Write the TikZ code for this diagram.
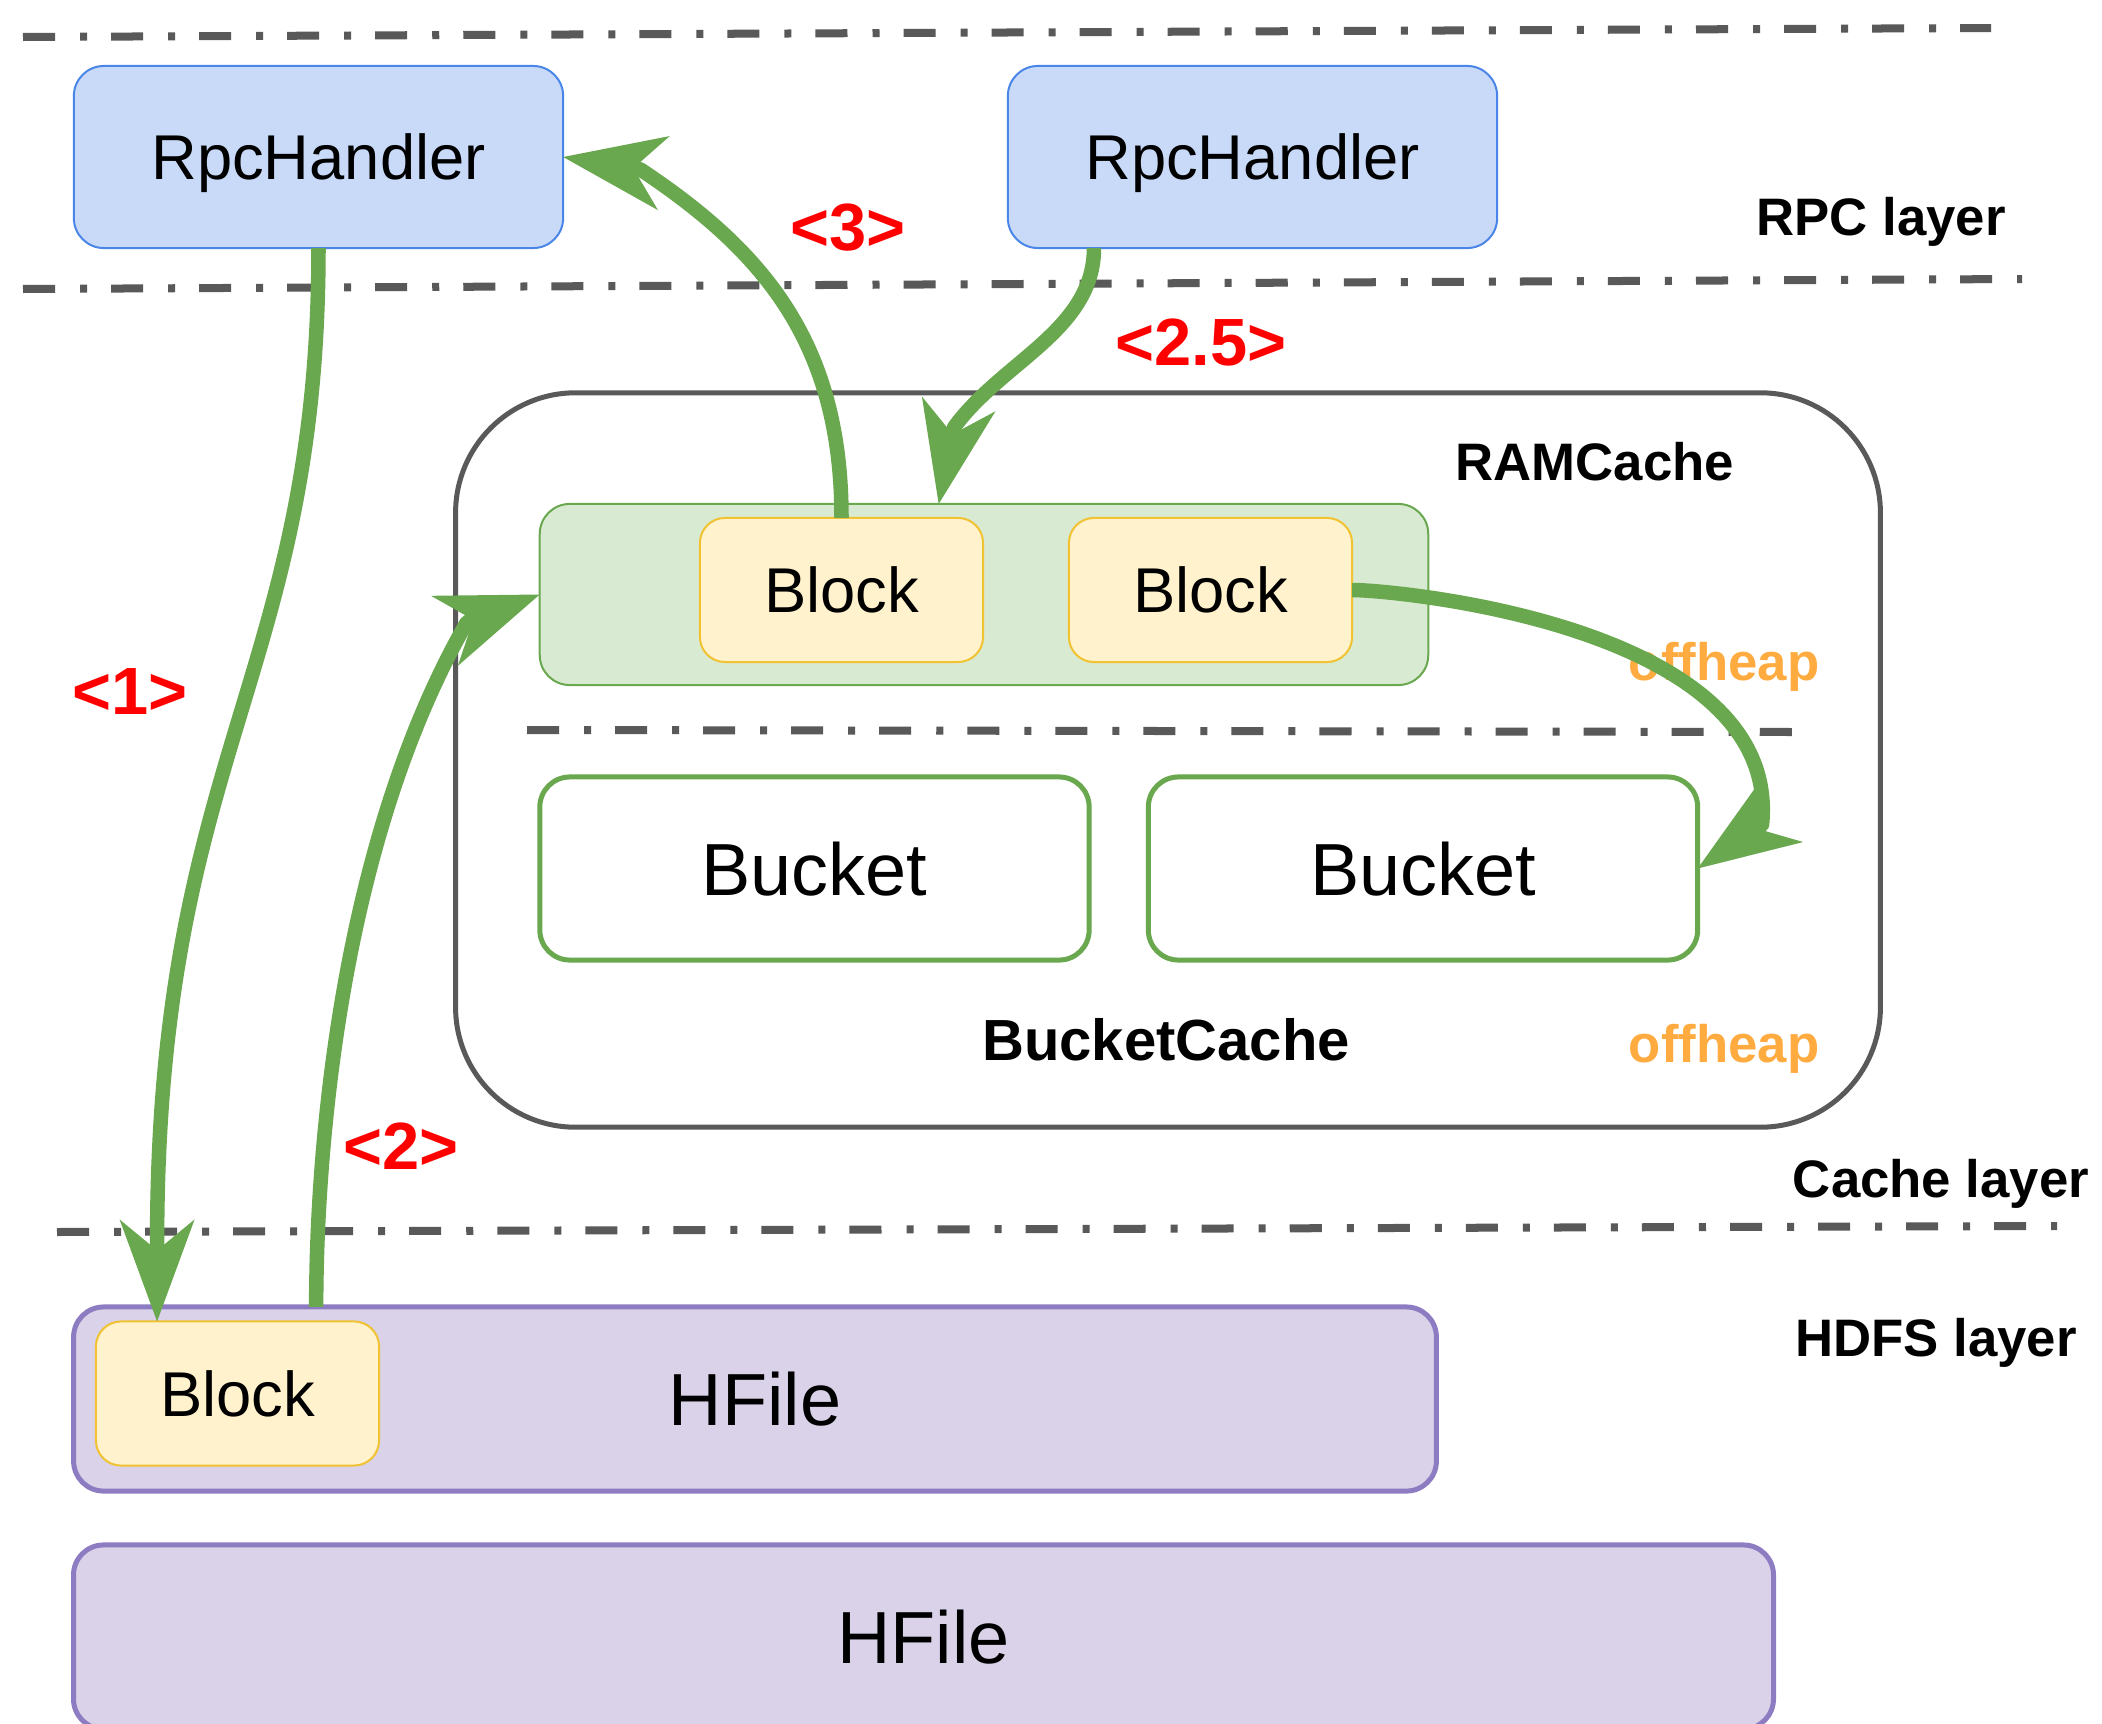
\documentclass[tikz,border=0pt]{standalone}
\usepackage{fontspec}
\setmainfont{Liberation Sans}
\usetikzlibrary{arrows.meta,calc}

\definecolor{rpcfill}{RGB}{201,218,248}
\definecolor{rpcline}{RGB}{74,134,232}
\definecolor{ramfill}{RGB}{217,234,211}
\definecolor{flowgreen}{RGB}{106,168,79}
\definecolor{blockfill}{RGB}{255,242,204}
\definecolor{blockline}{RGB}{241,194,50}
\definecolor{filefill}{RGB}{217,210,233}
\definecolor{fileline}{RGB}{142,124,195}
\definecolor{sepgray}{RGB}{89,89,89}
\definecolor{heaporange}{RGB}{255,171,64}
\definecolor{stepred}{RGB}{255,0,0}

\begin{document}
\begin{tikzpicture}[x=0.01cm, y=-0.01cm,
  box/.style={rectangle, inner sep=0pt, outer sep=0pt, rounded corners=0.3cm,
    text height=13pt, text depth=0pt, font=\fontsize{18pt}{20pt}\selectfont},
  bigbox/.style={box, text height=15.1pt, font=\fontsize{21pt}{24pt}\selectfont},
  rpc/.style={box, fill=rpcfill, draw=rpcline, line width=0.02cm,
    minimum width=4.89cm, minimum height=1.82cm},
  blockbox/.style={box, fill=blockfill, draw=blockline, line width=0.02cm,
    rounded corners=0.25cm, minimum width=2.83cm, minimum height=1.44cm},
  bucketbox/.style={bigbox, fill=white, draw=flowgreen, line width=0.05cm,
    minimum width=5.49cm, minimum height=1.83cm},
  filebox/.style={bigbox, fill=filefill, draw=fileline, line width=0.05cm,
    minimum height=1.84cm},
  layerlabel/.style={anchor=base, inner sep=0pt,
    font=\bfseries\fontsize{15pt}{18pt}\selectfont},
  heaplabel/.style={layerlabel, text=heaporange},
  steplabel/.style={anchor=base, inner sep=0pt, text=stepred,
    font=\bfseries\fontsize{19pt}{22pt}\selectfont},
  sep/.style={draw=sepgray, line width=0.08cm,
    dash pattern=on 0.32cm off 0.25cm on 0.07cm off 0.24cm},
  flow/.style={draw=flowgreen, line width=0.145cm, line join=round,
    -{Stealth[length=1.02cm, width=0.75cm, inset=0.31cm, line width=0pt]}}
]
\path[use as bounding box, fill=white] (0,0) rectangle (2102,1724);
\clip (0,0) rectangle (2102,1724);

% layer separators
\draw[sep] (23,37) -- (1991,28);
\draw[sep] (23,289) -- (2022,279);
\draw[sep] (57,1232) -- (2057,1226);

% RPC layer
\node[rpc] (h1) at (318.5,157) {RpcHandler};
\node[rpc] (h2) at (1252.5,157) {RpcHandler};
\node[layerlabel] (lrpc) at (1881,235) {RPC layer};

% cache layer
\node[box, fill=white, draw=sepgray, line width=0.05cm, rounded corners=1.2cm,
  minimum width=14.24cm, minimum height=7.34cm] (cache) at (1168,760) {};
\node[box, fill=ramfill, draw=flowgreen, line width=0.02cm,
  minimum width=8.88cm, minimum height=1.81cm] (ram) at (984,594.5) {};
\node[blockbox] (b1) at (841.5,590) {Block};
\node[blockbox] (b2) at (1210.5,590) {Block};
\node[layerlabel] (lram) at (1595,480) {RAMCache};
\node[heaplabel] (heap1) at (1724,680) {offheap};
\draw[sep] (527,730) -- (1792,732);
\node[bucketbox] (k1) at (814.5,868.5) {Bucket};
\node[bucketbox] (k2) at (1423,868.5) {Bucket};
\node[layerlabel, font=\bfseries\fontsize{16.5pt}{19pt}\selectfont] (lbucket) at (1166,1060) {BucketCache};
\node[heaplabel] (heap2) at (1724,1062) {offheap};
\node[layerlabel] (lcache) at (1941,1197) {Cache layer};

% HDFS layer
\node[filebox, minimum width=13.62cm] (hf1) at (755,1399) {HFile};
\node[blockbox] (b3) at (237.5,1393.5) {Block};
\node[filebox, minimum width=16.99cm] (hf2) at (923.5,1637) {HFile};
\node[layerlabel] (lhdfs) at (1936,1356) {HDFS layer};

% connector end points on box edges
\coordinate (t1) at ($(b3.north west)!0.216!(b3.north east)$);
\coordinate (s2) at ($(hf1.north west)!0.178!(hf1.north east)$);
\coordinate (s25) at ($(h2.south west)!0.176!(h2.south east)$);
\coordinate (t25) at ($(ram.north west)!0.449!(ram.north east)$);

% read path: each curve runs into a short straight lead that sets the tip direction
\draw[flow] (h1.south) .. controls +(0,429) and +(0,-491) .. ($(t1)+(0,-78)$) -- (t1);
\draw[flow] (s2) .. controls +(0,-163) and +(-125,217.5) .. ($(ram.west)+(-72.9,27.8)$) -- (ram.west);
\draw[flow] (b1.north) .. controls +(0,-174) and +(124.5,82.5) .. ($(h1.east)+(77,12.3)$) -- (h1.east);
\draw[flow] (s25) .. controls +(0,82) and +(48,-66) .. ($(t25)+(15.3,-76.5)$) -- (t25);
\draw[flow] (b2.east) .. controls +(43,0) and +(20,-199) .. ($(k2.east)+(64.4,-43.9)$) -- (k2.east);

% step numbers
\node[steplabel] (n1) at (130,714) {<1>};
\node[steplabel] (n2) at (401,1169) {<2>};
\node[steplabel] (n25) at (1201,365) {<2.5>};
\node[steplabel] (n3) at (848,250) {<3>};
\end{tikzpicture}
\end{document}
